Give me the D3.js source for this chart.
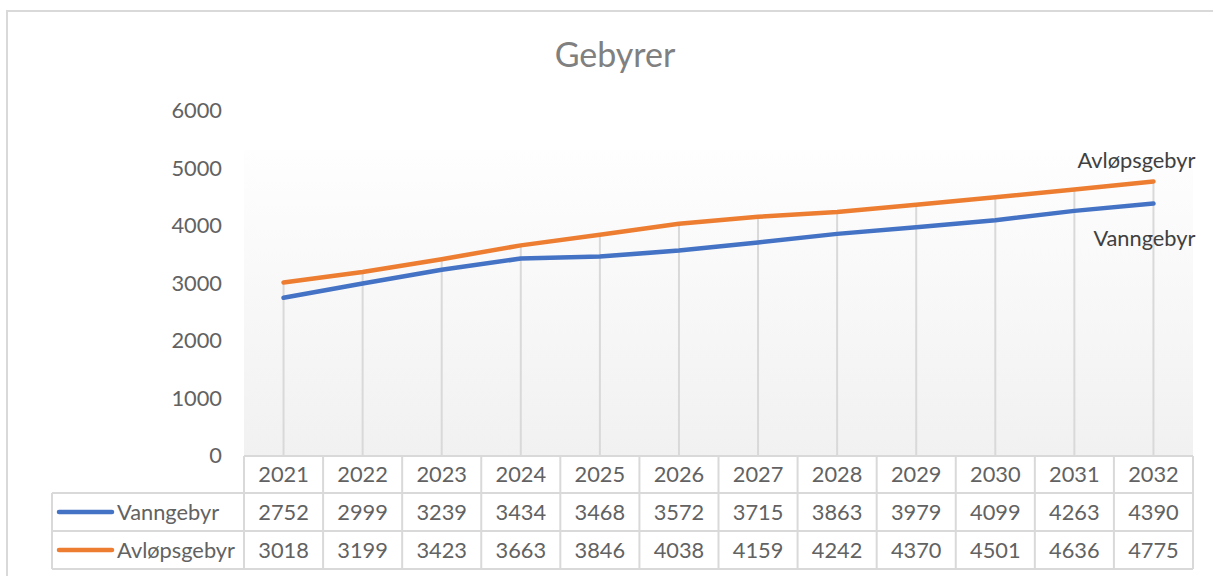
<!DOCTYPE html>
<html><head><meta charset="utf-8">
<script src="https://cdn.jsdelivr.net/npm/d3@7"></script>
<style>body{margin:0;background:#fff;} svg{display:block;font-family:Lato,"Open Sans",sans-serif;}</style>
</head><body>
<svg id="c" width="1213" height="576"></svg>
<script>
const years = ["2021","2022","2023","2024","2025","2026","2027","2028","2029","2030","2031","2032"];
const vanngebyr = [2752,2999,3239,3434,3468,3572,3715,3863,3979,4099,4263,4390];
const avlopsgebyr = [3018,3199,3423,3663,3846,4038,4159,4242,4370,4501,4636,4775];
const seriesNames = ["Vanngebyr","Avløpsgebyr"];
const seriesColors = ["#4472C4","#ED7D31"];
const yTicks = [0,1000,2000,3000,4000,5000,6000];
const title = "Gebyrer";

(function(){
const series = [vanngebyr, avlopsgebyr];
const svg = d3.select("#c");
const pLeft = 244, pRight = 1193, pTop = 111, pBottom = 456;
const x = d3.scaleBand().domain(years).range([pLeft,pRight]);
const y = d3.scaleLinear().domain([0,6000]).range([pBottom,pTop]);
const txt = "#626262", grid = "#d9d9d9";
const fs = 21.8;

svg.append("rect").attr("x",7).attr("y",11).attr("width",1230).attr("height",600)
  .attr("fill","none").attr("stroke","#d9d9d9").attr("stroke-width",2);

svg.append("text").attr("x",615).attr("y",67).attr("text-anchor","middle")
  .attr("font-size",34).attr("fill","#808080").text(title);

const defs = svg.append("defs");
const g = defs.append("linearGradient").attr("id","pg").attr("x1",0).attr("y1",0).attr("x2",0).attr("y2",1);
g.append("stop").attr("offset","0%").attr("stop-color","#fefefe");
g.append("stop").attr("offset","100%").attr("stop-color","#f1f1f1");
svg.append("rect").attr("x",pLeft).attr("y",150).attr("width",pRight-pLeft).attr("height",pBottom-150).attr("fill","url(#pg)");

const yAxis = d3.axisLeft(y).tickValues(yTicks).tickSize(0).tickPadding(0).tickFormat(d3.format("d"));
const ya = svg.append("g").attr("transform",`translate(${222},0)`).call(yAxis);
ya.select(".domain").remove();
ya.selectAll("text").attr("font-size",fs).attr("fill",txt).attr("font-family","Lato");

svg.append("g").selectAll("line").data(years).join("line")
  .attr("x1",d=>x(d)+x.bandwidth()/2).attr("x2",d=>x(d)+x.bandwidth()/2)
  .attr("y1",(d,i)=>y(Math.max(vanngebyr[i],avlopsgebyr[i]))).attr("y2",pBottom)
  .attr("stroke",grid).attr("stroke-width",2);

const line = d3.line().x((d,i)=>x(years[i])+x.bandwidth()/2).y(d=>y(d));
series.forEach((s,k)=>{
  svg.append("path").datum(s).attr("d",line).attr("fill","none")
    .attr("stroke",seriesColors[k]).attr("stroke-width",4.5)
    .attr("stroke-linecap","round").attr("stroke-linejoin","round");
});

const lastX = x(years[years.length-1])+x.bandwidth()/2;
svg.append("text").attr("x",lastX+42).attr("y",y(avlopsgebyr[11])-13).attr("text-anchor","end")
  .attr("font-size",fs).attr("fill","#404040").text(seriesNames[1]);
svg.append("text").attr("x",lastX+42).attr("y",y(vanngebyr[11])+42).attr("text-anchor","end")
  .attr("font-size",fs).attr("fill","#404040").text(seriesNames[0]);

const rowTops = [456,493,531,569];
const legendLeft = 52;
const tb = svg.append("g");
tb.append("rect").attr("x",pLeft).attr("y",rowTops[0]).attr("width",pRight-pLeft).attr("height",rowTops[1]-rowTops[0]).attr("fill","#fff");
tb.append("rect").attr("x",legendLeft).attr("y",rowTops[1]).attr("width",pRight-legendLeft).attr("height",rowTops[3]-rowTops[1]).attr("fill","#fff");
tb.append("line").attr("x1",pLeft).attr("x2",pRight).attr("y1",rowTops[0]).attr("y2",rowTops[0]).attr("stroke",grid).attr("stroke-width",2);
[1,2,3].forEach(r=>{
  tb.append("line").attr("x1",legendLeft).attr("x2",pRight).attr("y1",rowTops[r]).attr("y2",rowTops[r]).attr("stroke",grid).attr("stroke-width",2);
});
tb.append("line").attr("x1",legendLeft).attr("x2",legendLeft).attr("y1",rowTops[1]).attr("y2",rowTops[3]).attr("stroke",grid).attr("stroke-width",2);
years.forEach(d=>{
  tb.append("line").attr("x1",x(d)).attr("x2",x(d)).attr("y1",rowTops[0]).attr("y2",rowTops[3]).attr("stroke",grid).attr("stroke-width",2);
});
tb.append("line").attr("x1",pRight).attr("x2",pRight).attr("y1",rowTops[0]).attr("y2",rowTops[3]).attr("stroke",grid).attr("stroke-width",2);
tb.selectAll("text.h").data(years).join("text").attr("class","h")
  .attr("x",d=>x(d)+x.bandwidth()/2).attr("y",(rowTops[0]+rowTops[1])/2).attr("dy","0.36em")
  .attr("text-anchor","middle").attr("font-size",fs).attr("fill",txt).text(d=>d);
series.forEach((s,k)=>{
  const cy = (rowTops[k+1]+rowTops[k+2])/2;
  tb.selectAll("text.v"+k).data(s).join("text").attr("class","v"+k)
    .attr("x",(d,i)=>x(years[i])+x.bandwidth()/2).attr("y",cy).attr("dy","0.36em")
    .attr("text-anchor","middle").attr("font-size",fs).attr("fill",txt).text(d=>d);
  tb.append("line").attr("x1",59).attr("x2",112).attr("y1",cy).attr("y2",cy)
    .attr("stroke",seriesColors[k]).attr("stroke-width",4.5).attr("stroke-linecap","round");
  tb.append("text").attr("x",117).attr("y",cy).attr("dy","0.36em").attr("font-size",fs)
    .attr("fill",txt).text(seriesNames[k]);
});
})();
</script>
</body></html>
